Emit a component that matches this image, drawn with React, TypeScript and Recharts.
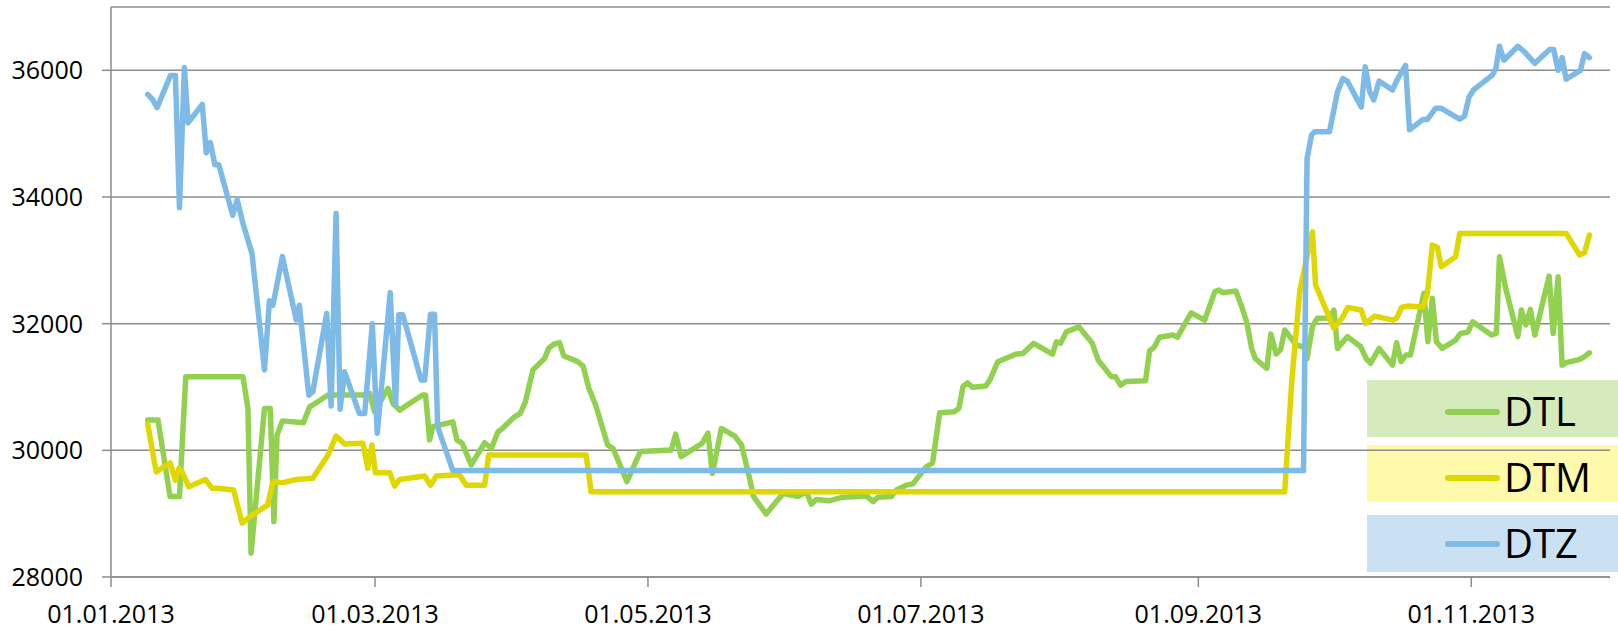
import React from "react";
import { LineChart, Line, XAxis, YAxis, CartesianGrid } from "recharts";

const W = 1618;
const H = 632;

// x axis: days since 01.01.2013
const tickDays = [0, 59, 120, 181, 243, 304];
const tickLabels = ["01.01.2013", "01.03.2013", "01.05.2013", "01.07.2013", "01.09.2013", "01.11.2013"];
const yTicks = [28000, 30000, 32000, 34000, 36000];

const dtlDays = [
  8.2, 10.5, 13.2, 15.3, 16.7, 29.5, 30.6, 31.3, 34.3, 35.6,
  36.4, 37.1, 38.3, 43.0, 44.4, 45.1, 48.5, 56.3, 57.8, 58.9,
  61.9, 63.0, 64.5, 69.6, 70.3, 71.2, 71.9, 76.4, 77.3, 78.5,
  80.5, 83.5, 85.0, 86.5, 87.2, 90.2, 91.5, 92.6, 94.3, 96.9,
  97.8, 98.9, 100.2, 101.2, 104.3, 105.5, 106.8, 108.3, 111.0, 112.2,
  115.3, 118.3, 125.2, 126.2, 127.4, 132.1, 133.4, 134.4, 136.4, 139.4,
  140.9, 142.7, 143.6, 146.4, 150.2, 153.5, 155.4, 156.5, 157.6, 160.6,
  163.6, 168.8, 170.3, 171.4, 174.4, 175.5, 177.7, 179.2, 182.2, 183.6,
  185.2, 188.5, 189.5, 190.4, 191.4, 192.5, 195.5, 196.4, 198.2, 202.3,
  203.8, 206.2, 210.4, 211.3, 212.2, 213.5, 216.3, 219.3, 220.6, 223.6,
  224.5, 225.6, 226.8, 231.2, 232.1, 233.1, 234.3, 237.3, 238.3, 240.0,
  241.4, 244.4, 246.7, 247.6, 248.5, 251.4, 252.7, 253.8, 254.9, 255.7,
  258.3, 259.2, 260.4, 261.4, 262.3, 264.9, 266.6, 267.3, 268.5, 269.6,
  272.2, 273.3, 274.1, 276.3, 279.3, 280.5, 281.5, 283.4, 286.4, 287.3,
  288.3, 289.4, 290.4, 293.4, 294.3, 295.3, 296.2, 297.5, 300.5, 301.6,
  303.3, 304.3, 308.5, 309.6, 310.3, 311.7, 314.4, 315.2, 316.2, 317.2,
  318.2, 321.4, 322.3, 323.4, 324.3, 325.2, 328.2, 329.3, 330.4,
];
const dtlValues = [
  30480, 30480, 29270, 29270, 31160, 31160, 30660, 28375, 30660, 30660,
  28875, 30240, 30465, 30435, 30690, 30715, 30875, 30875, 30900, 30610,
  30980, 30740, 30635, 30875, 30875, 30165, 30375, 30450, 30165, 30110,
  29770, 30120, 30030, 30295, 30330, 30530, 30585, 30765, 31270, 31450,
  31610, 31675, 31700, 31490, 31400, 31330, 30980, 30715, 30085, 30030,
  29505, 29980, 30005, 30255, 29900, 30110, 30270, 29635, 30345, 30225,
  30085, 29560, 29270, 28995, 29320, 29270, 29345, 29150, 29225, 29205,
  29260, 29280, 29190, 29260, 29270, 29375, 29450, 29470, 29740, 29800,
  30595, 30610, 30665, 31005, 31065, 30995, 31015, 31110, 31400, 31520,
  31530, 31690, 31520, 31715, 31690, 31870, 31950, 31690, 31425, 31160,
  31160, 31030, 31085, 31100, 31570, 31625, 31785, 31820, 31785, 31995,
  32170, 32055, 32505, 32530, 32490, 32515, 32265, 32030, 31610, 31450,
  31295, 31835, 31520, 31595, 31900, 31660, 31635, 31450, 31960, 32085,
  32090, 32215, 31610, 31795, 31635, 31450, 31375, 31610, 31345, 31700,
  31400, 31505, 31505, 32480, 31715, 32400, 31715, 31610, 31740, 31845,
  31870, 32030, 31820, 31845, 33055, 32555, 31795, 32215, 31980, 32225,
  31820, 32750, 31845, 32740, 31345, 31385, 31435, 31480, 31540,
];

const dtmDays = [
  8.2, 10.1, 13.2, 14.4, 15.2, 16.0, 17.4, 21.1, 22.6, 23.9,
  27.4, 29.3, 31.0, 35.0, 36.2, 38.4, 41.4, 45.1, 48.5, 50.3,
  52.2, 56.3, 57.4, 58.3, 59.1, 62.3, 63.4, 64.5, 70.1, 71.4,
  72.7, 76.4, 77.9, 79.4, 83.5, 84.4, 106.2, 107.3, 262.3, 263.9,
  265.7, 268.5, 269.2, 273.3, 275.2, 276.4, 279.4, 280.4, 282.4, 286.5,
  287.3, 288.4, 289.9, 293.2, 294.2, 295.3, 296.4, 297.3, 300.5, 301.4,
  325.2, 328.2, 329.3, 330.4,
];
const dtmValues = [
  30415, 29660, 29800, 29530, 29715, 29645, 29425, 29540, 29400, 29400,
  29375, 28850, 28950, 29135, 29505, 29490, 29540, 29560, 29925, 30225,
  30100, 30110, 29715, 30085, 29645, 29645, 29435, 29540, 29595, 29450,
  29595, 29610, 29610, 29450, 29450, 29925, 29925, 29345, 29345, 31110,
  32530, 33450, 32610, 31925, 32095, 32255, 32215, 32005, 32120, 32055,
  32085, 32255, 32280, 32265, 32480, 33240, 33205, 32900, 33055, 33425,
  33425, 33085, 33120, 33400,
];

const dtzDays = [
  8.2, 9.3, 10.3, 13.3, 14.4, 15.3, 16.4, 17.2, 20.4, 21.3,
  22.2, 23.2, 24.1, 27.2, 28.2, 29.5, 31.5, 34.3, 35.4, 36.2,
  38.3, 41.4, 42.1, 44.2, 45.1, 48.2, 49.2, 50.3, 51.2, 52.2,
  55.5, 56.7, 58.4, 59.5, 62.4, 63.6, 64.3, 65.2, 69.3, 70.1,
  71.4, 72.3, 73.0, 76.4, 266.5, 267.3, 268.3, 269.0, 272.3, 274.1,
  275.3, 276.3, 279.4, 280.3, 281.3, 282.2, 283.4, 286.4, 287.4, 289.3,
  290.2, 293.2, 294.2, 296.0, 297.3, 301.4, 302.5, 303.5, 304.5, 308.7,
  309.5, 310.3, 311.3, 314.4, 315.9, 318.2, 321.5, 322.4, 323.4, 324.3,
  325.2, 328.4, 329.3, 330.4,
];
const dtzValues = [
  35620, 35540, 35410, 35920, 35920, 33830, 36045, 35170, 35460, 34700,
  34860, 34510, 34510, 33710, 33960, 33580, 33110, 31270, 32360, 32290,
  33060, 32060, 32290, 30870, 30925, 32160, 30700, 33740, 30650, 31240,
  30580, 30580, 32000, 30270, 32490, 30715, 32140, 32140, 31110, 31110,
  32150, 32150, 30370, 29680, 29680, 34610, 34980, 35030, 35030, 35660,
  35870, 35830, 35420, 36055, 35660, 35530, 35830, 35690, 35845, 36080,
  35060, 35225, 35225, 35400, 35400, 35230, 35280, 35580, 35690, 35925,
  36030, 36380, 36160, 36380, 36290, 36110, 36330, 36330, 36000, 36200,
  35860, 36000, 36265, 36200,
];

const zip = (days: number[], vals: number[]) => days.map((d, i) => ({ d, v: vals[i] }));

const SERIES = [
  { name: "DTL", color: "#92D050", box: "#D5EBBB", top: 380, lineY: 412, data: zip(dtlDays, dtlValues) },
  { name: "DTM", color: "#E0D700", box: "#FFF9AA", top: 445, lineY: 478, data: zip(dtmDays, dtmValues) },
  { name: "DTZ", color: "#7DBAE8", box: "#C9E1F3", top: 515, lineY: 544, data: zip(dtzDays, dtzValues) },
];

const GRID = "#8c8c8c";
const axisTick = { fill: "#000", fontSize: 25 };

export default function App() {
  return (
    <div style={{ position: "absolute", left: 0, top: 0, width: W, height: H, background: "#fff", fontFamily: "'Open Sans', sans-serif" }}>
      {/* legend sits under the svg so the gridline runs across it */}
      {SERIES.map((s) => (
        <React.Fragment key={s.name}>
          <div style={{ position: "absolute", left: 1367, top: s.top, width: 251, height: 57, background: s.box }} />
          <div style={{ position: "absolute", left: 1445, top: s.lineY - 3, width: 55, height: 6, borderRadius: 3, background: s.color }} />
          <div style={{ position: "absolute", left: 1504, top: s.lineY - 29, fontSize: 40, lineHeight: "56px", color: "#000" }}>{s.name}</div>
        </React.Fragment>
      ))}
      <div style={{ position: "absolute", left: 0, top: 0, zIndex: 1 }}>
        <LineChart width={W} height={H} margin={{ top: 7, right: 8, bottom: 0, left: 0 }}>
          <CartesianGrid vertical={false} stroke={GRID} strokeWidth={1.5} />
          <XAxis
            type="number"
            dataKey="d"
            domain={[0, 335]}
            ticks={tickDays}
            interval={0}
            allowDataOverflow
            tickFormatter={(v) => tickLabels[tickDays.indexOf(v)] ?? ""}
            height={55}
            tickSize={10}
            tickMargin={18}
            axisLine={{ stroke: GRID, strokeWidth: 1.5 }}
            tickLine={{ stroke: GRID, strokeWidth: 1.5 }}
            tick={axisTick}
          />
          <YAxis
            type="number"
            domain={[28000, 37000]}
            ticks={yTicks}
            interval={0}
            allowDataOverflow
            width={111}
            tickSize={9}
            tickMargin={19}
            axisLine={{ stroke: GRID, strokeWidth: 1.5 }}
            tickLine={{ stroke: GRID, strokeWidth: 1.5 }}
            tick={axisTick}
          />
          {SERIES.map((s) => (
            <Line
              key={s.name}
              data={s.data}
              dataKey="v"
              name={s.name}
              type="linear"
              stroke={s.color}
              strokeWidth={5.5}
              strokeLinejoin="round"
              strokeLinecap="round"
              dot={false}
              activeDot={false}
              isAnimationActive={false}
            />
          ))}
        </LineChart>
      </div>
    </div>
  );
}
